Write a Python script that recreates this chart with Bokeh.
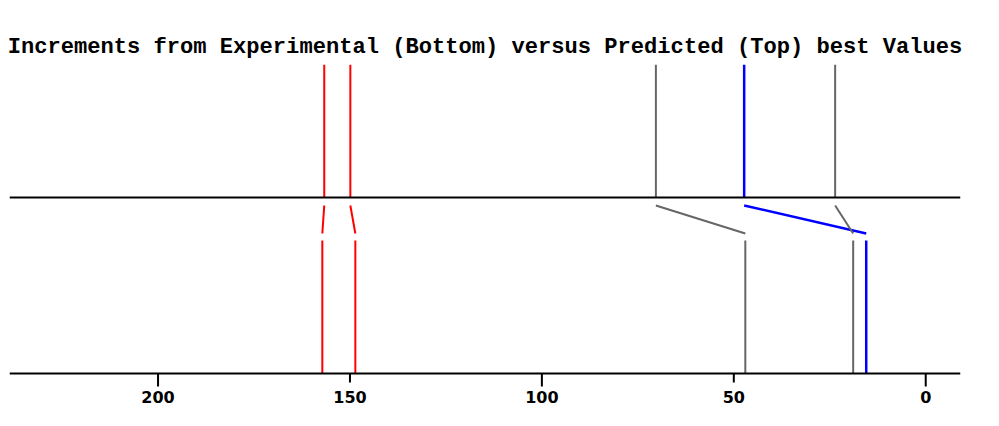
from bokeh.plotting import figure
from bokeh.models import Range1d, FixedTicker, Span, ColumnDataSource, Title, LinearAxis
from bokeh.embed import file_html
from bokeh.resources import INLINE

# Data: predicted (top) and experimental (bottom) values
predicted = [156.7, 149.9, 70.3, 47.3, 23.6]
experimental = [157.2, 148.6, 47.0, 15.5, 18.9]
colors = ["#ff0000", "#ff0000", "#666666", "#0000ff", "#666666"]
widths = [2, 2, 2, 2.5, 2]
tick_values = [0, 50, 100, 150, 200]
long_ticks = [0, 100, 200]

# Layout levels (vertical, in frame units = pixels)
Y_TOP = 309
Y_MID = 176
Y_CONN_TOP = 168
Y_CONN_BOT = 140
Y_BOT_TOP = 133
Y_BASE = 0
Y_MIN = -14
TICK_SHORT = 9
TICK_LONG = 13

p = figure(width=983, height=410, output_backend="svg", toolbar_location=None,
           x_range=Range1d(238.7, -9.06), y_range=Range1d(Y_MIN, Y_TOP),
           x_axis_location=None, y_axis_location=None,
           min_border_left=9, min_border_right=23, min_border_top=64, min_border_bottom=23)
p.title = Title(text="Increments from Experimental (Bottom) versus Predicted (Top) best Values",
                align="center", text_font="Liberation Mono", text_font_size="22.1px",
                text_font_style="bold", text_color="#000000")

n = len(predicted)
top = ColumnDataSource(dict(x0=predicted, y0=[Y_MID]*n, x1=predicted, y1=[Y_TOP]*n, c=colors, w=widths))
conn = ColumnDataSource(dict(x0=predicted, y0=[Y_CONN_TOP]*n, x1=experimental, y1=[Y_CONN_BOT]*n, c=colors, w=widths))
bot = ColumnDataSource(dict(x0=experimental, y0=[Y_BASE]*n, x1=experimental, y1=[Y_BOT_TOP]*n, c=colors, w=widths))
for src in (top, conn, bot):
    p.segment("x0", "y0", "x1", "y1", source=src, line_color="c", line_width="w")

# middle separator and baseline
p.add_layout(Span(location=Y_MID, dimension="width", line_color="#000000", line_width=2))
p.add_layout(Span(location=Y_BASE, dimension="width", line_color="#000000", line_width=2))

# tick marks (long at 0/100/200, short at 50/150)
tick_len = [-(TICK_LONG if t in long_ticks else TICK_SHORT) for t in tick_values]
ticks = ColumnDataSource(dict(x=tick_values, y0=[Y_BASE]*len(tick_values), y1=tick_len))
p.segment("x", "y0", "x", "y1", source=ticks, line_color="#000000", line_width=2)

p.xgrid.visible = False
p.ygrid.visible = False
p.outline_line_color = None
p.background_fill_color = "white"
p.border_fill_color = "white"

ax = LinearAxis(ticker=FixedTicker(ticks=tick_values))
ax.axis_line_color = None
ax.major_tick_line_color = None
ax.minor_tick_line_color = None
ax.major_tick_in = 0
ax.major_tick_out = 0
ax.minor_tick_in = 0
ax.minor_tick_out = 0
ax.major_label_standoff = 3
ax.major_label_text_font = "DejaVu Sans"
ax.major_label_text_font_style = "bold"
ax.major_label_text_font_size = "16px"
ax.major_label_text_color = "#000000"
p.add_layout(ax, "below")

open("out.html", "w").write(file_html(p, INLINE))
